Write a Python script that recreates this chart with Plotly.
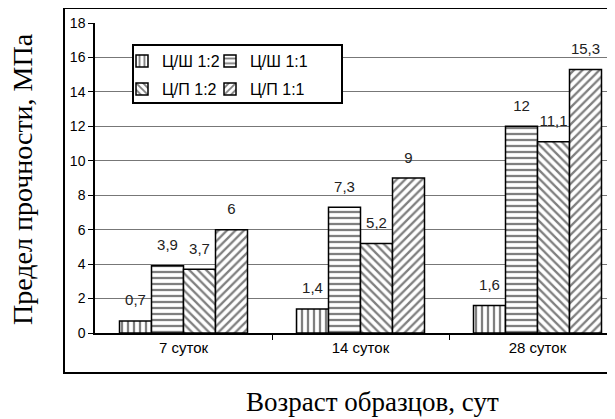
import plotly.graph_objects as go

categories = ["7 суток", "14 суток", "28 суток"]
series_names = ["Ц/Ш 1:2", "Ц/Ш 1:1", "Ц/П 1:2", "Ц/П 1:1"]
cs_12 = [0.7, 1.4, 1.6]
cs_11 = [3.9, 7.3, 12.0]
cp_12 = [3.7, 5.2, 11.1]
cp_11 = [6.0, 9.0, 15.3]
y_ticks = [0, 2, 4, 6, 8, 10, 12, 14, 16, 18]

series_values = [cs_12, cs_11, cp_12, cp_11]
patterns = ["|", "-", "\\", "/"]
legend_ids = ["legend", "legend2", "legend3", "legend4"]

LABEL_GAP = 0.55  # visual spacing of value labels above bars (axis units)

def fmt(v):
    return ("%g" % v).replace(".", ",")

# page offset of the html body (8px default margin)
OFF = 8
W, H = 615 - OFF, 419 - OFF
PX0, PY_TOP, PY_BOT = 95, 23, 333          # plot area in page pixels
L, T = PX0 - OFF, PY_TOP - OFF
B = H - (PY_BOT - OFF)
plot_w = W - L
plot_h = PY_BOT - PY_TOP
cat_px = 177.0
xmax = -0.5 + plot_w / cat_px

def px(x):  # page x -> paper
    return (x - PX0) / plot_w

def py(y):  # page y -> paper
    return (PY_BOT - y) / plot_h

x_pos = list(range(len(categories)))
fig = go.Figure()
for i, (name, vals, pat, lg) in enumerate(zip(series_names, series_values, patterns, legend_ids)):
    fig.add_trace(go.Bar(
        x=x_pos, y=vals, name=name, legend=lg, offsetgroup=str(i),
        cliponaxis=False,
        marker=dict(color="white", line=dict(color="black", width=1.5),
                    pattern=dict(shape=pat, fgcolor="black", bgcolor="white",
                                 size=6, solidity=0.38, fillmode="overlay")),
    ))
    # transparent carrier for the value labels, sitting on top of each bar
    fig.add_trace(go.Bar(
        x=x_pos, y=[LABEL_GAP] * len(vals), base=vals, offsetgroup=str(i),
        showlegend=False, hoverinfo="skip",
        text=[fmt(v) for v in vals], textposition="outside",
        textfont=dict(family="Liberation Sans", size=15, color="#222"),
        cliponaxis=False,
        marker=dict(color="rgba(0,0,0,0)", line=dict(width=0)),
    ))

leg_common = dict(
    orientation="h", xanchor="left", yanchor="middle",
    bgcolor="rgba(0,0,0,0)", borderwidth=0,
    font=dict(family="Liberation Sans", size=16, color="black"),
    itemwidth=30,
)
col_x = [122, 210]
row_y = [61, 89]

fig.update_layout(
    width=W, height=H,
    margin=dict(l=L, r=0, t=T, b=B),
    paper_bgcolor="white", plot_bgcolor="white",
    barmode="group", bargap=49 / 177, bargroupgap=0,
    font=dict(family="Liberation Sans", color="black"),
    legend=dict(x=px(col_x[0]), y=py(row_y[0]), **leg_common),
    legend2=dict(x=px(col_x[1]), y=py(row_y[0]), **leg_common),
    legend3=dict(x=px(col_x[0]), y=py(row_y[1]), **leg_common),
    legend4=dict(x=px(col_x[1]), y=py(row_y[1]), **leg_common),
    xaxis=dict(
        range=[-0.5, xmax], tickmode="array", tickvals=x_pos, ticktext=categories,
        ticks="", showline=True, linecolor="black", linewidth=1.5,
        tickfont=dict(family="Liberation Sans", size=15, color="black"),
        minor=dict(tickmode="array", tickvals=[0.5, 1.5, 2.5], ticks="outside",
                   ticklen=5, tickcolor="black", showgrid=False),
        fixedrange=True,
    ),
    yaxis=dict(
        range=[0, 18], tickmode="array", tickvals=y_ticks,
        ticks="outside", ticklen=5, tickcolor="black",
        showline=True, linecolor="black", linewidth=1.5,
        showgrid=True, gridcolor="#777", gridwidth=1,
        tickfont=dict(family="Liberation Sans", size=14, color="black"),
    ),
    annotations=[
        dict(text="Предел прочности, МПа", xref="paper", yref="paper",
             x=px(23), y=py(179), textangle=-90, showarrow=False,
             xanchor="center", yanchor="middle",
             font=dict(family="Liberation Serif", size=28, color="black")),
        dict(text="Возраст образцов, сут", xref="paper", yref="paper",
             x=px(372), y=py(402), showarrow=False,
             xanchor="center", yanchor="middle",
             font=dict(family="Liberation Serif", size=27, color="black")),
    ],
)

# outer chart-area frame
fig.add_shape(type="rect", xref="paper", yref="paper",
              x0=px(64), x1=px(640), y0=py(373), y1=py(8),
              line=dict(color="black", width=2), fillcolor="rgba(0,0,0,0)", layer="below")
# legend frame
fig.add_shape(type="rect", xref="paper", yref="paper",
              x0=px(133), x1=px(342), y0=py(103), y1=py(45),
              line=dict(color="black", width=2), fillcolor="white", layer="above")

fig.write_html("out.html")
